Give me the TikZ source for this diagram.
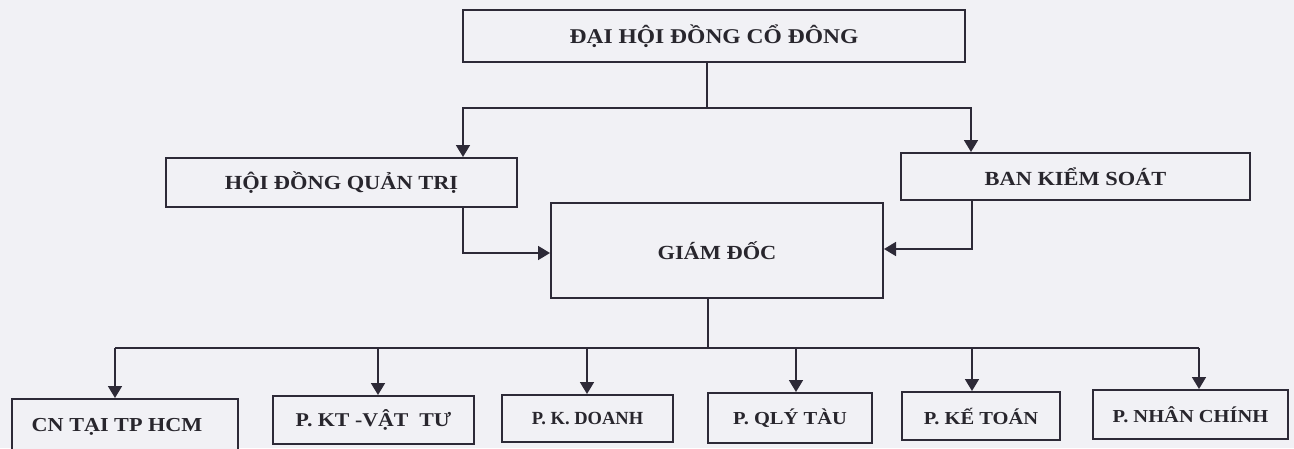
\documentclass[tikz,border=0pt]{standalone}
\usepackage{fontspec}
\setmainfont{Liberation Serif}
\newfontfamily\widefont[FakeStretch=1.12]{Liberation Serif}
\usetikzlibrary{arrows.meta}
\definecolor{paper}{RGB}{241,241,245}
\definecolor{ink}{RGB}{45,42,55}
\definecolor{txt}{RGB}{40,38,45}
\tikzset{
  box/.style={draw=ink, line width=2pt, fill=paper, inner sep=0pt, text=txt,
    font=\widefont\bfseries\fontsize{20}{22}\selectfont},
  lowbox/.style={box, font=\widefont\bfseries\fontsize{18.3}{20}\selectfont},
  conn/.style={draw=ink, line width=1.8pt},
  arr/.style={conn, -{Triangle[length=12pt,width=14pt]}}
}
\begin{document}
\begin{tikzpicture}[x=1pt,y=-1pt]
\useasboundingbox (0,0) rectangle (1294,448);
\fill[paper] (0,0) rectangle (1294,448);
\clip (0,0) rectangle (1294,448);
% boxes
\node[box, minimum width=502pt, minimum height=52pt, font=\widefont\bfseries\fontsize{21}{23}\selectfont] (top) at (714,36) {ĐẠI HỘI ĐỒNG CỔ ĐÔNG};
\node[box, minimum width=351pt, minimum height=49pt] (hdqt) at (341.5,182.5) {HỘI ĐỒNG QUẢN TRỊ};
\node[box, minimum width=349pt, minimum height=47pt] (bks) at (1075.5,176.5) {BAN KIỂM SOÁT};
\node[box, minimum width=332pt, minimum height=95pt] (gd) at (717,250.5) {\raisebox{-4pt}{GIÁM ĐỐC}};
\node[lowbox, minimum width=226pt, minimum height=56pt, font=\widefont\bfseries\fontsize{19.8}{21}\selectfont] (cn) at (125,427) {\hspace{-16pt}CN TẠI TP HCM};
\node[lowbox, minimum width=201pt, minimum height=48pt, font=\widefont\bfseries\fontsize{19.5}{21}\selectfont] (pkt) at (373.5,420) {P. KT -VẬT\ \ TƯ};
\node[lowbox, minimum width=171pt, minimum height=47pt, font=\bfseries\fontsize{18.5}{20}\selectfont] (pkd) at (587.5,418.5) {P. K. DOANH};
\node[lowbox, minimum width=164pt, minimum height=50pt] (pql) at (790,418) {P. QLÝ TÀU};
\node[lowbox, minimum width=158pt, minimum height=48pt] (pkto) at (981,416) {P. KẾ TOÁN};
\node[lowbox, minimum width=195pt, minimum height=49pt] (pnc) at (1190.5,414.5) {P. NHÂN CHÍNH};
% junction coordinates
\coordinate (j0) at (707,108);
\coordinate (j1) at (463,108);
\coordinate (j2) at (971,108);
\coordinate (g1) at (463,253);
\coordinate (g2) at (972,249);
\coordinate (b0) at (708,348);
\coordinate (c1) at (115,348);
\coordinate (c2) at (378,348);
\coordinate (c3) at (587,348);
\coordinate (c4) at (796,348);
\coordinate (c5) at (972,348);
\coordinate (c6) at (1199,348);
% connectors
\draw[conn] (top.south -| j0) -- (j0);
\draw[arr] (j0) -- (j1) -- (hdqt.north -| j1);
\draw[arr] (j0) -- (j2) -- (bks.north -| j2);
\draw[arr] (hdqt.south -| g1) -- (g1) -- (gd.west |- g1);
\draw[arr] (bks.south -| g2) -- (g2) -- (gd.east |- g2);
\draw[conn] (gd.south -| b0) -- (b0);
\draw[conn] (c1) -- (c6);
\draw[arr] (c1) -- (cn.north -| c1);
\draw[arr] (c2) -- (pkt.north -| c2);
\draw[arr] (c3) -- (pkd.north -| c3);
\draw[arr] (c4) -- (pql.north -| c4);
\draw[arr] (c5) -- (pkto.north -| c5);
\draw[arr] (c6) -- (pnc.north -| c6);
\end{tikzpicture}
\end{document}
